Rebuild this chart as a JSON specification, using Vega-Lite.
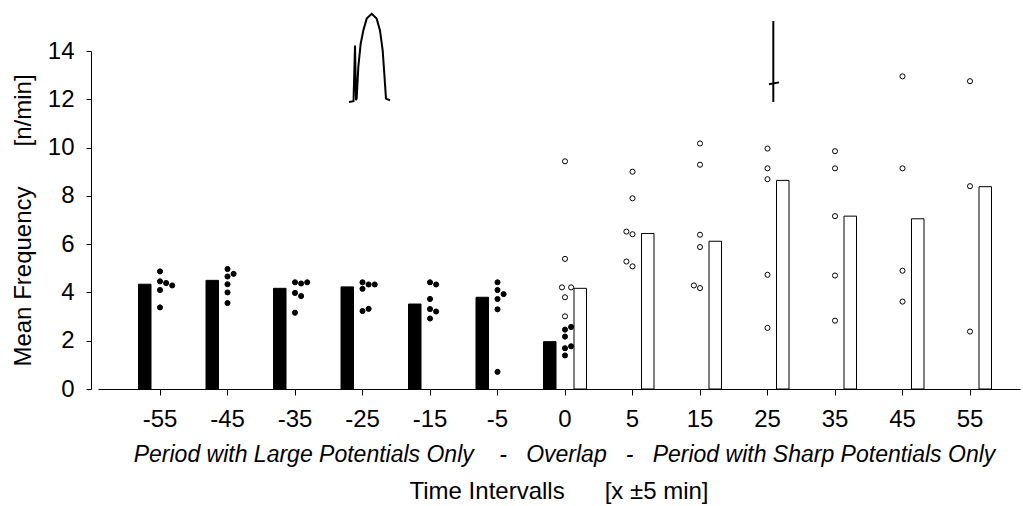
{
  "$schema": "https://vega.github.io/schema/vega-lite/v6.json",
  "width": 922,
  "height": 338,
  "autosize": {"type": "none"},
  "padding": {"left": 98, "top": 51, "right": 3, "bottom": 117},
  "background": "white",
  "config": {
    "view": {"stroke": null},
    "font": "Liberation Sans",
    "axis": {"grid": false, "domainColor": "black", "tickColor": "black", "labelColor": "black", "titleColor": "black", "labelFont": "Liberation Sans", "titleFont": "Liberation Sans"}
  },
  "title": {
    "text": "Time Intervalls\u00a0\u00a0\u00a0\u00a0\u00a0\u00a0[x ±5 min]",
    "orient": "bottom",
    "anchor": "middle",
    "fontSize": 24,
    "fontWeight": "normal",
    "font": "Liberation Sans",
    "color": "black",
    "offset": 14
  },
  "datasets": {
    "bars": [
      {"t": "-55", "type": "L", "col": -5, "v": 4.34},
      {"t": "-45", "type": "L", "col": -5, "v": 4.50},
      {"t": "-35", "type": "L", "col": -5, "v": 4.17},
      {"t": "-25", "type": "L", "col": -5, "v": 4.23},
      {"t": "-15", "type": "L", "col": -5, "v": 3.52},
      {"t": "-5", "type": "L", "col": -5, "v": 3.80},
      {"t": "0", "type": "L", "col": -5, "v": 1.96},
      {"t": "0", "type": "S", "col": 5, "v": 4.17},
      {"t": "5", "type": "S", "col": 5, "v": 6.44},
      {"t": "15", "type": "S", "col": 5, "v": 6.12},
      {"t": "25", "type": "S", "col": 5, "v": 8.64},
      {"t": "35", "type": "S", "col": 5, "v": 7.16},
      {"t": "45", "type": "S", "col": 5, "v": 7.05},
      {"t": "55", "type": "S", "col": 5, "v": 8.38}
    ],
    "dots": [
      {"t": "-55", "type": "L", "col": 0, "v": 4.87},
      {"t": "-55", "type": "L", "col": 0, "v": 4.46},
      {"t": "-55", "type": "L", "col": 2, "v": 4.39},
      {"t": "-55", "type": "L", "col": 4, "v": 4.29},
      {"t": "-55", "type": "L", "col": 0, "v": 4.10},
      {"t": "-55", "type": "L", "col": 0, "v": 3.38},
      {"t": "-45", "type": "L", "col": 0, "v": 4.97},
      {"t": "-45", "type": "L", "col": 2, "v": 4.77},
      {"t": "-45", "type": "L", "col": 0, "v": 4.66},
      {"t": "-45", "type": "L", "col": 0, "v": 4.34},
      {"t": "-45", "type": "L", "col": 0, "v": 4.00},
      {"t": "-45", "type": "L", "col": 0, "v": 3.56},
      {"t": "-35", "type": "L", "col": 0, "v": 4.42},
      {"t": "-35", "type": "L", "col": 2, "v": 4.37},
      {"t": "-35", "type": "L", "col": 4, "v": 4.42},
      {"t": "-35", "type": "L", "col": 0, "v": 3.98},
      {"t": "-35", "type": "L", "col": 2, "v": 3.85},
      {"t": "-35", "type": "L", "col": 0, "v": 3.16},
      {"t": "-25", "type": "L", "col": 0, "v": 4.42},
      {"t": "-25", "type": "L", "col": 2, "v": 4.33},
      {"t": "-25", "type": "L", "col": 4, "v": 4.33},
      {"t": "-25", "type": "L", "col": 0, "v": 4.15},
      {"t": "-25", "type": "L", "col": 2, "v": 3.32},
      {"t": "-25", "type": "L", "col": 0, "v": 3.23},
      {"t": "-15", "type": "L", "col": 0, "v": 4.42},
      {"t": "-15", "type": "L", "col": 2, "v": 4.33},
      {"t": "-15", "type": "L", "col": 0, "v": 3.73},
      {"t": "-15", "type": "L", "col": 0, "v": 3.31},
      {"t": "-15", "type": "L", "col": 2, "v": 3.21},
      {"t": "-15", "type": "L", "col": 0, "v": 2.92},
      {"t": "-5", "type": "L", "col": 0, "v": 4.42},
      {"t": "-5", "type": "L", "col": 0, "v": 4.10},
      {"t": "-5", "type": "L", "col": 2, "v": 3.93},
      {"t": "-5", "type": "L", "col": 0, "v": 3.73},
      {"t": "-5", "type": "L", "col": 0, "v": 3.30},
      {"t": "-5", "type": "L", "col": 0, "v": 0.71},
      {"t": "0", "type": "L", "col": 0, "v": 2.46},
      {"t": "0", "type": "L", "col": 2, "v": 2.57},
      {"t": "0", "type": "L", "col": 0, "v": 2.17},
      {"t": "0", "type": "L", "col": 0, "v": 1.69},
      {"t": "0", "type": "L", "col": 2, "v": 1.77},
      {"t": "0", "type": "L", "col": 0, "v": 1.39},
      {"t": "0", "type": "S", "col": 0, "v": 9.43},
      {"t": "0", "type": "S", "col": 0, "v": 5.39},
      {"t": "0", "type": "S", "col": -1, "v": 4.21},
      {"t": "0", "type": "S", "col": 2, "v": 4.21},
      {"t": "0", "type": "S", "col": 0, "v": 3.80},
      {"t": "0", "type": "S", "col": 0, "v": 3.01},
      {"t": "5", "type": "S", "col": 0, "v": 9.00},
      {"t": "5", "type": "S", "col": 0, "v": 7.90},
      {"t": "5", "type": "S", "col": -2, "v": 6.52},
      {"t": "5", "type": "S", "col": 0, "v": 6.41},
      {"t": "5", "type": "S", "col": -2, "v": 5.28},
      {"t": "5", "type": "S", "col": 0, "v": 5.08},
      {"t": "15", "type": "S", "col": 0, "v": 10.17},
      {"t": "15", "type": "S", "col": 0, "v": 9.29},
      {"t": "15", "type": "S", "col": 0, "v": 6.39},
      {"t": "15", "type": "S", "col": 0, "v": 5.88},
      {"t": "15", "type": "S", "col": -2, "v": 4.29},
      {"t": "15", "type": "S", "col": 0, "v": 4.18},
      {"t": "25", "type": "S", "col": 0, "v": 9.96},
      {"t": "25", "type": "S", "col": 0, "v": 9.14},
      {"t": "25", "type": "S", "col": 0, "v": 8.69},
      {"t": "25", "type": "S", "col": 0, "v": 4.73},
      {"t": "25", "type": "S", "col": 0, "v": 2.53},
      {"t": "35", "type": "S", "col": 0, "v": 9.85},
      {"t": "35", "type": "S", "col": 0, "v": 9.14},
      {"t": "35", "type": "S", "col": 0, "v": 7.16},
      {"t": "35", "type": "S", "col": 0, "v": 4.70},
      {"t": "35", "type": "S", "col": 0, "v": 2.83},
      {"t": "45", "type": "S", "col": 0, "v": 12.95},
      {"t": "45", "type": "S", "col": 0, "v": 9.14},
      {"t": "45", "type": "S", "col": 0, "v": 4.90},
      {"t": "45", "type": "S", "col": 0, "v": 3.62},
      {"t": "55", "type": "S", "col": 0, "v": 12.75},
      {"t": "55", "type": "S", "col": 0, "v": 8.40},
      {"t": "55", "type": "S", "col": 0, "v": 2.38}
    ],
    "wave": [
      {"seg": "a", "k": 0, "wx": 2.800, "wy": 11.89},
      {"seg": "a", "k": 1, "wx": 2.867, "wy": 11.92},
      {"seg": "a", "k": 2, "wx": 2.889, "wy": 14.23},
      {"seg": "a", "k": 3, "wx": 2.904, "wy": 11.96},
      {"seg": "a", "k": 4, "wx": 2.914, "wy": 12.03},
      {"seg": "a", "k": 5, "wx": 2.938, "wy": 13.34},
      {"seg": "a", "k": 6, "wx": 2.973, "wy": 14.30},
      {"seg": "a", "k": 7, "wx": 3.012, "wy": 14.85},
      {"seg": "a", "k": 8, "wx": 3.062, "wy": 15.34},
      {"seg": "a", "k": 9, "wx": 3.136, "wy": 15.54},
      {"seg": "a", "k": 10, "wx": 3.210, "wy": 15.34},
      {"seg": "a", "k": 11, "wx": 3.259, "wy": 14.85},
      {"seg": "a", "k": 12, "wx": 3.299, "wy": 14.03},
      {"seg": "a", "k": 13, "wx": 3.323, "wy": 13.06},
      {"seg": "a", "k": 14, "wx": 3.348, "wy": 12.03},
      {"seg": "a", "k": 15, "wx": 3.407, "wy": 11.96},
      {"seg": "b", "k": 0, "wx": 9.086, "wy": 15.24},
      {"seg": "b", "k": 1, "wx": 9.086, "wy": 11.89},
      {"seg": "c", "k": 0, "wx": 9.022, "wy": 12.62},
      {"seg": "c", "k": 1, "wx": 9.170, "wy": 12.70}
    ]
  },
  "layer": [
    {
      "encoding": {
        "x": {
          "field": "t",
          "type": "nominal",
          "scale": {
            "domain": ["-55", "-45", "-35", "-25", "-15", "-5", "0", "5", "15", "25", "35", "45", "55"],
            "paddingInner": 0,
            "paddingOuter": 0.3296,
            "align": 0.635
          },
          "axis": {
            "title": "Period with Large Potentials Only\u00a0\u00a0\u00a0\u00a0-\u00a0\u00a0\u00a0Overlap\u00a0\u00a0\u00a0-\u00a0\u00a0\u00a0Period with Sharp Potentials Only",
            "titleFontStyle": "italic",
            "titleFontWeight": "normal",
            "titleFontSize": 23,
            "titlePadding": 12,
            "titleX": 466,
            "labelFontSize": 24,
            "labelPadding": 12,
            "labelAngle": 0,
            "tickSize": 6,
            "domainWidth": 1,
            "tickWidth": 1
          }
        },
        "xOffset": {
          "field": "col",
          "type": "ordinal",
          "scale": {"domain": [-10, -9, -8, -7, -6, -5, -4, -3, -2, -1, 0, 1, 2, 3, 4, 5, 6, 7, 8, 9, 10], "paddingInner": 0, "paddingOuter": 0.565}
        },
        "y": {
          "field": "v",
          "type": "quantitative",
          "scale": {"domain": [0, 14], "nice": false, "zero": true},
          "axis": {
            "title": "Mean Frequency\u00a0\u00a0\u00a0\u00a0\u00a0\u00a0[n/min]",
            "titleFontSize": 24,
            "titleFontWeight": "normal",
            "titlePadding": 12,
            "labelFontSize": 24,
            "labelPadding": 12,
            "tickSize": 5,
            "offset": 7,
            "values": [0, 2, 4, 6, 8, 10, 12, 14]
          }
        }
      },
      "layer": [
        {
          "data": {"name": "bars"},
          "mark": {"type": "bar", "width": 12.5, "stroke": "black", "strokeWidth": 1},
          "encoding": {
            "fill": {"field": "type", "type": "nominal", "scale": {"domain": ["L", "S"], "range": ["black", "white"]}, "legend": null}
          }
        },
        {
          "data": {"name": "dots"},
          "mark": {"type": "point", "shape": "circle", "filled": true, "opacity": 1, "stroke": "black", "strokeWidth": 1, "size": 26},
          "encoding": {
            "fill": {"field": "type", "type": "nominal", "scale": {"domain": ["L", "S"], "range": ["black", "white"]}, "legend": null}
          }
        }
      ]
    },
    {
      "data": {"name": "wave"},
      "mark": {"type": "line", "color": "black", "strokeWidth": 2, "clip": false},
      "encoding": {
        "x": {"field": "wx", "type": "quantitative", "scale": {"domain": [-0.9185, 12.7407], "nice": false, "zero": false}, "axis": null},
        "y": {"field": "wy", "type": "quantitative", "scale": {"domain": [0, 14], "nice": false, "zero": false}, "axis": null},
        "detail": {"field": "seg", "type": "nominal"},
        "order": {"field": "k", "type": "quantitative"}
      }
    }
  ],
  "resolve": {"scale": {"x": "independent", "y": "independent"}}
}
